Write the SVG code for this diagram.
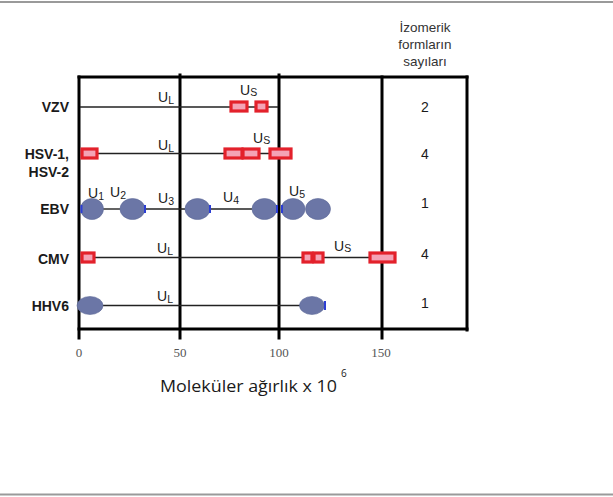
<svg xmlns="http://www.w3.org/2000/svg" width="613" height="497" viewBox="0 0 613 497">
<defs>
<style>
.frame{stroke:#000;stroke-width:3;fill:none;stroke-linecap:square}
.row{font-family:"Liberation Sans",Arial,sans-serif;font-size:14px;font-weight:bold;fill:#1a1a1a;text-anchor:end}
.u{font-family:"Liberation Sans",Arial,sans-serif;font-size:14px;fill:#1a1a1a}
.sub{font-size:10.5px}
.num{font-family:"Liberation Sans",Arial,sans-serif;font-size:14px;fill:#1a1a1a;text-anchor:middle}
.hdr{font-family:"Liberation Sans",Arial,sans-serif;font-size:13.5px;fill:#333;text-anchor:middle}
.tick{font-family:"Liberation Serif","Times New Roman",serif;font-size:13px;fill:#555;text-anchor:middle}
.box{fill:#f4a3b6;stroke:#e3212b;stroke-width:3.2}
.ov{fill:#6b76a6;stroke:#5d6897;stroke-width:0.6}
.edge{fill:#2c3ed4}
.gl{stroke:#222;stroke-width:1.4;fill:none}
</style>
</defs>
<rect x="0" y="0" width="613" height="497" fill="#fff"/>
<line x1="0" y1="2" x2="613" y2="2" stroke="#9a9a9a" stroke-width="2"/>
<line x1="0" y1="494.5" x2="613" y2="494.5" stroke="#9a9a9a" stroke-width="2"/>

<g id="header">
<text class="hdr" x="425" y="32">İzomerik</text>
<text class="hdr" x="425" y="49">formların</text>
<text class="hdr" x="425" y="66">sayıları</text>
</g>

<g id="frame">
<line class="frame" x1="79" y1="77" x2="467" y2="77"/>
<line class="frame" x1="79" y1="329" x2="467" y2="329"/>
<line class="frame" x1="79" y1="77" x2="79" y2="338"/>
<line class="frame" x1="180" y1="75" x2="180" y2="338"/>
<line class="frame" x1="279" y1="75" x2="279" y2="338"/>
<line class="frame" x1="382" y1="77" x2="382" y2="338"/>
<line class="frame" x1="467" y1="77" x2="467" y2="330"/>
</g>

<g id="axis">
<text class="tick" x="79" y="357">0</text>
<text class="tick" x="180" y="357">50</text>
<text class="tick" x="279" y="357">100</text>
<text class="tick" x="381" y="357">150</text>
<text x="160" y="392" font-family="'Open Sans','Liberation Sans',sans-serif" font-size="16.5" fill="#1a1a1a" textLength="177" lengthAdjust="spacingAndGlyphs">Moleküler ağırlık x 10</text>
<text x="341" y="377" font-family="'Open Sans','Liberation Sans',sans-serif" font-size="10" fill="#1a1a1a">6</text>
</g>

<g id="connectors">
<line class="gl" x1="80" y1="107" x2="278" y2="107"/>
<line class="gl" x1="98" y1="153.5" x2="270" y2="153.5" stroke-width="1.2"/>
<line class="gl" x1="103" y1="209" x2="120" y2="209"/>
<line class="gl" x1="145" y1="209" x2="185" y2="209"/>
<line class="gl" x1="210" y1="209" x2="252" y2="209"/>
<line class="gl" x1="95" y1="257.5" x2="370" y2="257.5" stroke="#555" stroke-width="1"/>
<line class="gl" x1="103" y1="305.5" x2="300" y2="305.5" stroke="#888" stroke-width="1"/>
</g>

<g id="vzv">
<text class="row" x="69" y="112">VZV</text>
<text class="u" x="158" y="102">U<tspan class="sub" dy="2">L</tspan></text>
<text class="u" x="240" y="95">U<tspan class="sub" font-size="12" dy="1">S</tspan></text>
<rect class="box" x="231" y="102" width="16" height="9"/>
<rect class="box" x="256" y="102" width="11" height="9"/>
<text class="num" x="425" y="112">2</text>
</g>

<g id="hsv">
<text class="row" x="69" y="159">HSV-1,</text>
<text class="row" x="69" y="177">HSV-2</text>
<rect class="box" x="82" y="149" width="15" height="9"/>
<text class="u" x="158" y="150">U<tspan class="sub" dy="2">L</tspan></text>
<text class="u" x="253" y="143">U<tspan class="sub" font-size="12" dy="1">S</tspan></text>
<rect class="box" x="225" y="149" width="17" height="9"/>
<rect class="box" x="243" y="149" width="16" height="9"/>
<rect class="box" x="270" y="149" width="21" height="9"/>
<text class="num" x="425" y="159">4</text>
</g>

<g id="ebv">
<text class="row" x="69" y="214">EBV</text>
<text class="u" x="88" y="198">U<tspan class="sub" dy="2">1</tspan></text>
<text class="u" x="110" y="197">U<tspan class="sub" dy="2">2</tspan></text>
<text class="u" x="158" y="203">U<tspan class="sub" dy="2">3</tspan></text>
<text class="u" x="223" y="202">U<tspan class="sub" dy="2">4</tspan></text>
<text class="u" x="289" y="196">U<tspan class="sub" dy="2">5</tspan></text>
<ellipse class="ov" cx="92" cy="209" rx="11.5" ry="10.5"/>
<ellipse class="ov" cx="132.5" cy="209" rx="12.5" ry="10.5"/>
<ellipse class="ov" cx="197.5" cy="209" rx="12.5" ry="10.5"/>
<ellipse class="ov" cx="264.5" cy="209" rx="12.5" ry="10.5"/>
<ellipse class="ov" cx="293" cy="209" rx="12" ry="10.5"/>
<ellipse class="ov" cx="318" cy="209" rx="12.5" ry="10.5"/>
<rect class="edge" x="80.5" y="205" width="2" height="8"/>
<rect class="edge" x="144" y="205" width="2" height="8"/>
<rect class="edge" x="209" y="205" width="2" height="8"/>
<rect class="edge" x="276" y="205" width="2" height="8"/>
<rect class="edge" x="281" y="205" width="2" height="8"/>
<text class="num" x="425" y="208">1</text>
</g>

<g id="cmv">
<text class="row" x="69" y="264">CMV</text>
<rect class="box" x="82" y="253" width="12" height="9"/>
<text class="u" x="157" y="253">U<tspan class="sub" dy="2">L</tspan></text>
<text class="u" x="334" y="251">U<tspan class="sub" font-size="12" dy="1">S</tspan></text>
<rect class="box" x="303" y="253" width="9" height="9"/>
<rect class="box" x="314" y="253" width="9" height="9"/>
<rect class="box" x="370" y="253" width="25" height="9"/>
<text class="num" x="425" y="259">4</text>
</g>

<g id="hhv6">
<text class="row" x="69" y="311">HHV6</text>
<ellipse class="ov" cx="90" cy="305.5" rx="13" ry="9"/>
<text class="u" x="157" y="301">U<tspan class="sub" dy="2">L</tspan></text>
<ellipse class="ov" cx="312" cy="305.5" rx="12.5" ry="9"/>
<rect class="edge" x="324" y="301" width="2" height="9"/>
<text class="num" x="425" y="308">1</text>
</g>
</svg>
